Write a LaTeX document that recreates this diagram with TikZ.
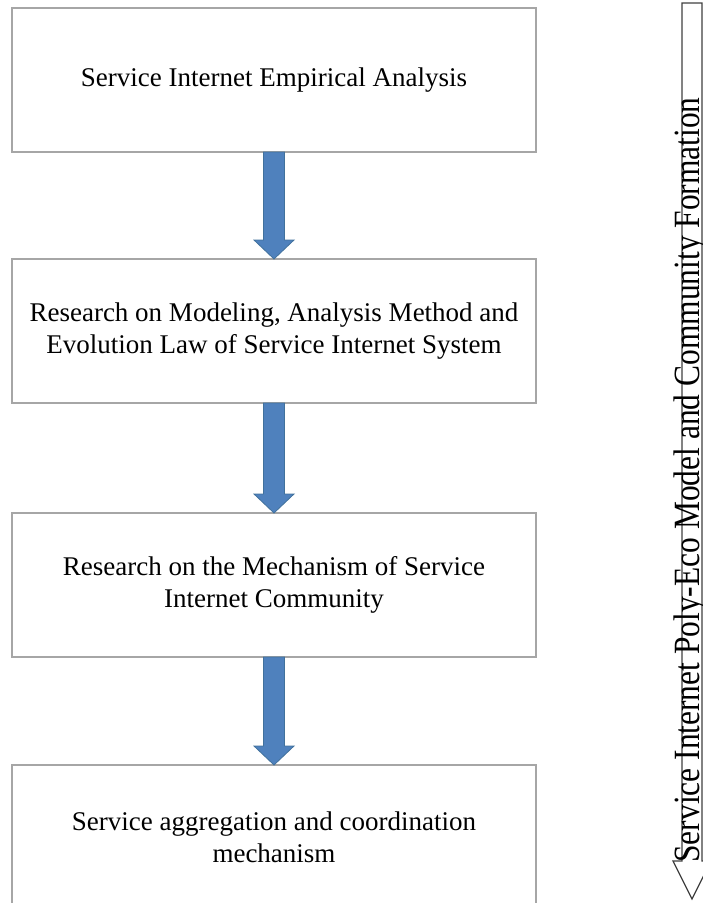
\documentclass[tikz,border=0pt]{standalone}
\usepackage{fontspec}
\setmainfont{Liberation Serif}
\usetikzlibrary{calc}
\definecolor{boxgray}{HTML}{A6A6A6}
\definecolor{arrowblue}{HTML}{4F81BD}
\definecolor{arrowedge}{HTML}{41719C}
\definecolor{outlinegray}{HTML}{404040}
\begin{document}
\begin{tikzpicture}[x=1pt,y=-1pt,
  stagebox/.style={draw=boxgray, line width=2pt, fill=white,
    minimum width=524pt, minimum height=144pt, align=center,
    inner sep=0pt, outer sep=0pt,
    font=\fontsize{27}{32}\selectfont},
  blockarrow/.style={fill=arrowblue, draw=arrowedge, line width=0.8pt, line join=miter}
]
\useasboundingbox (0,0) rectangle (703,903);
\begin{scope}
\clip (0,0) rectangle (703,903);

\node[stagebox] (b1) at (274,80) {Service Internet Empirical Analysis};
\node[stagebox] (b2) at (274,331) {Research on Modeling, Analysis Method and\\Evolution Law of Service Internet System};
\node[stagebox] (b3) at (274,585) {Research on the Mechanism of Service\\Internet Community};
\node[stagebox] (b4) at (274,837) {Service aggregation and coordination\\mechanism};

\foreach \a/\b in {b1/b2,b2/b3,b3/b4}{
  \draw[blockarrow] let \p1=(\a.south), \p2=(\b.north) in
    (\x1-10.5pt,\y1) -- (\x1+10.5pt,\y1) -- (\x1+10.5pt,\y2+19pt)
    -- (\x1+20pt,\y2+19pt) -- (\x1,\y2) -- (\x1-20pt,\y2+19pt)
    -- (\x1-10.5pt,\y2+19pt) -- cycle;
}

% side arrow
\draw[draw=outlinegray, line width=1.2pt, fill=white, line join=miter]
  (682,3) -- (702,3) -- (702,861) -- (711,861) -- (692,899)
  -- (673,861) -- (682,861) -- cycle;
\node[rotate=90, anchor=base, inner sep=0pt] (side) at (699,480)
  {\scalebox{0.85}[1]{\fontsize{37}{38}\selectfont Service Internet Poly-Eco Model and Community Formation}};
\end{scope}
\end{tikzpicture}
\end{document}
